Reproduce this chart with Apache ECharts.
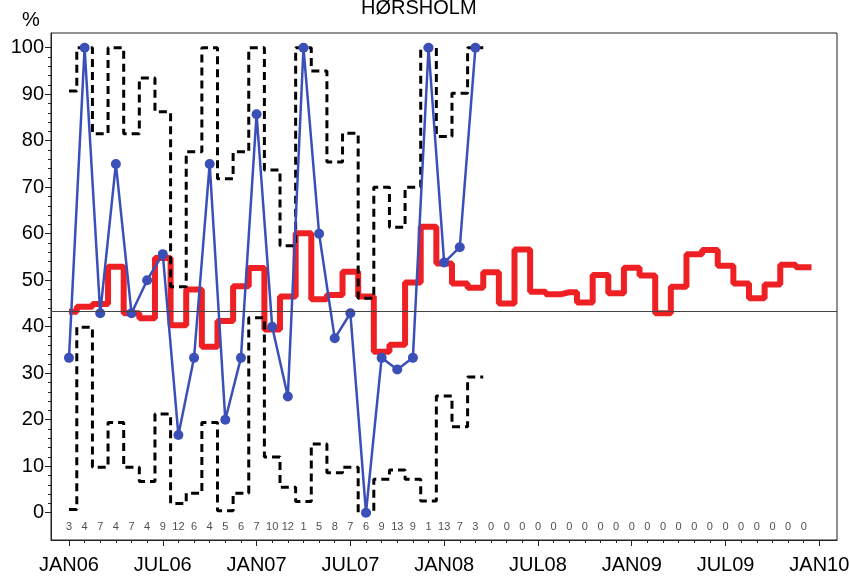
<!DOCTYPE html>
<html>
<head>
<meta charset="utf-8">
<script src="https://cdn.jsdelivr.net/npm/echarts@6/dist/echarts.min.js"></script>
<style>
  html, body { margin: 0; padding: 0; background: #fff; }
  #chart { width: 850px; height: 576px; }
</style>
</head>
<body>
<div id="chart"></div>
<script>
const TITLE = 'HØRSHOLM'

// x is months since JAN06
const X_MIN = -1.15
const X_MAX = 49.13
const X_TICK_MONTHS = [0, 6, 12, 18, 24, 30, 36, 42, 48]
const X_TICK_LABELS = ['JAN06', 'JUL06', 'JAN07', 'JUL07', 'JAN08', 'JUL08', 'JAN09', 'JUL09', 'JAN10']
const Y_MIN = -5.87
const Y_MAX = 103.16
const Y_TICKS = [0, 10, 20, 30, 40, 50, 60, 70, 80, 90, 100]

// monthly share (%), JAN06 .. MAR08
const MONTHLY_PCT = [33.3, 100, 42.9, 75, 42.9, 50, 55.6, 16.7, 33.3, 75, 20, 33.3,
  85.7, 40, 25, 100, 60, 37.5, 42.9, 0, 33.3, 30.8, 33.3, 100,
  53.8, 57.1, 100]

// number of cases per month, JAN06 .. DEC09
const MONTHLY_N = [3, 4, 7, 4, 7, 4, 9, 12, 6, 4, 5, 6,
  7, 10, 12, 1, 5, 8, 7, 6, 9, 13, 9, 1,
  13, 7, 3, 0, 0, 0, 0, 0, 0, 0, 0, 0,
  0, 0, 0, 0, 0, 0, 0, 0, 0, 0, 0, 0]

const UPPER_LIMIT = [90.7, 100, 81.5, 100, 81.5, 93.5, 86.2, 48.6, 77.6, 100, 71.8, 77.6,
  100, 73.7, 57.4, 100, 95, 75.4, 81.6, 46.1, 70, 61.4, 70, 100,
  80.9, 90.2, 100]

const LOWER_LIMIT = [0.7, 39.9, 9.8, 19.4, 9.8, 6.7, 21.2, 2, 4.2, 19.4, 0.4, 4.2,
  41.9, 12, 5.5, 2.4, 14.8, 8.6, 9.8, 0, 7.2, 9.2, 7.2, 2.5,
  25.1, 18.5, 29.2]

const TREND = [43.2, 44.3, 44.9, 52.9, 42.9, 41.8, 54.8, 40.3, 48, 35.7, 41.2, 48.7,
  52.6, 39.4, 46.5, 60.1, 45.9, 46.8, 51.8, 46.5, 34.6, 36.1, 49.5, 61.5,
  53.6, 49.3, 48.4, 51.7, 45, 56.6, 47.5, 47, 47.4, 45.2, 51.1, 47.2,
  52.7, 51, 42.9, 48.6, 55.6, 56.5, 53.1, 49.3, 46.1, 49.1, 53.3, 52.8]

const REFERENCE = 43.4
const COUNT_ROW_Y = -3.1

const FONT = '"Liberation Sans", Arial, Helvetica, sans-serif'

// a monthly step runs from the first month to half a month past the last one
function stepData(values) {
  const d = values.map((v, i) => [i, v])
  d.push([values.length - 0.5, values[values.length - 1]])
  return d
}

const everyMonth = []
for (let m = 0; m <= 48; m++) everyMonth.push(m)
const yMinor = []
for (let v = 0; v <= 100; v += 2) yMinor.push(v)

const chart = echarts.init(document.getElementById('chart'), null, { renderer: 'canvas' })

const axisColor = '#222'
const dashed = { color: '#000', width: 3, type: [8, 5] }

chart.setOption({
  animation: false,
  backgroundColor: '#fff',
  textStyle: { fontFamily: FONT },
  title: {
    text: TITLE,
    left: 356,
    top: -7,
    textStyle: { fontSize: 20, fontWeight: 'normal', color: '#000', fontFamily: FONT },
  },
  grid: {
    left: 51, right: 13, top: 33, bottom: 36,
    show: true, borderColor: axisColor, borderWidth: 1,
    outerBoundsMode: 'none',
  },
  xAxis: [
    {
      type: 'value', min: X_MIN, max: X_MAX, position: 'bottom',
      axisLine: { show: true, onZero: false, lineStyle: { color: axisColor, width: 1 } },
      axisTick: { show: true, customValues: X_TICK_MONTHS, length: 6, lineStyle: { color: axisColor } },
      axisLabel: {
        customValues: X_TICK_MONTHS,
        formatter: v => X_TICK_LABELS[X_TICK_MONTHS.indexOf(v)],
        fontSize: 20, color: '#000', margin: 15,
      },
      splitLine: { show: false },
    },
    {
      type: 'value', min: X_MIN, max: X_MAX, position: 'bottom',
      axisLine: { show: false, onZero: false },
      axisTick: { show: true, customValues: everyMonth, length: 3, lineStyle: { color: axisColor } },
      axisLabel: { show: false },
      splitLine: { show: false },
    },
  ],
  yAxis: [
    {
      type: 'value', min: Y_MIN, max: Y_MAX, position: 'left',
      name: '%', nameLocation: 'end', nameGap: 3,
      nameTextStyle: { fontSize: 20, color: '#000', padding: [0, 40, 0, 0] },
      axisLine: { show: true, onZero: false, lineStyle: { color: axisColor, width: 1 } },
      axisTick: { show: true, customValues: Y_TICKS, length: 6, lineStyle: { color: axisColor } },
      axisLabel: { customValues: Y_TICKS, fontSize: 20, color: '#000', margin: 7 },
      splitLine: { show: false },
    },
    {
      type: 'value', min: Y_MIN, max: Y_MAX, position: 'left',
      axisLine: { show: false, onZero: false },
      axisTick: { show: true, customValues: yMinor, length: 3, lineStyle: { color: axisColor } },
      axisLabel: { show: false },
      splitLine: { show: false },
    },
  ],
  series: [
    {
      name: 'trend', type: 'line', step: 'middle', data: stepData(TREND),
      symbol: 'none', lineStyle: { color: '#ee2024', width: 6 }, z: 2,
      markLine: {
        silent: true, symbol: ['none', 'none'], label: { show: false },
        lineStyle: { color: '#444', width: 1, type: 'solid' },
        data: [{ yAxis: REFERENCE }],
      },
    },
    {
      name: 'upper', type: 'line', step: 'middle', data: stepData(UPPER_LIMIT),
      symbol: 'none', lineStyle: dashed, z: 3,
    },
    {
      name: 'lower', type: 'line', step: 'middle', data: stepData(LOWER_LIMIT),
      symbol: 'none', lineStyle: dashed, z: 3,
    },
    {
      name: 'monthly', type: 'line', data: MONTHLY_PCT.map((v, i) => [i, v]),
      symbol: 'circle', symbolSize: 10, itemStyle: { color: '#3a50b8' },
      lineStyle: { color: '#3a50b8', width: 2.5 }, z: 4,
    },
    {
      name: 'n', type: 'scatter', symbolSize: 0, silent: true,
      data: MONTHLY_N.map((n, i) => [i, COUNT_ROW_Y, n]),
      label: {
        show: true, position: 'inside', formatter: p => p.value[2],
        fontSize: 11, color: '#222',
      },
      z: 5,
    },
  ],
})
</script>
</body>
</html>
